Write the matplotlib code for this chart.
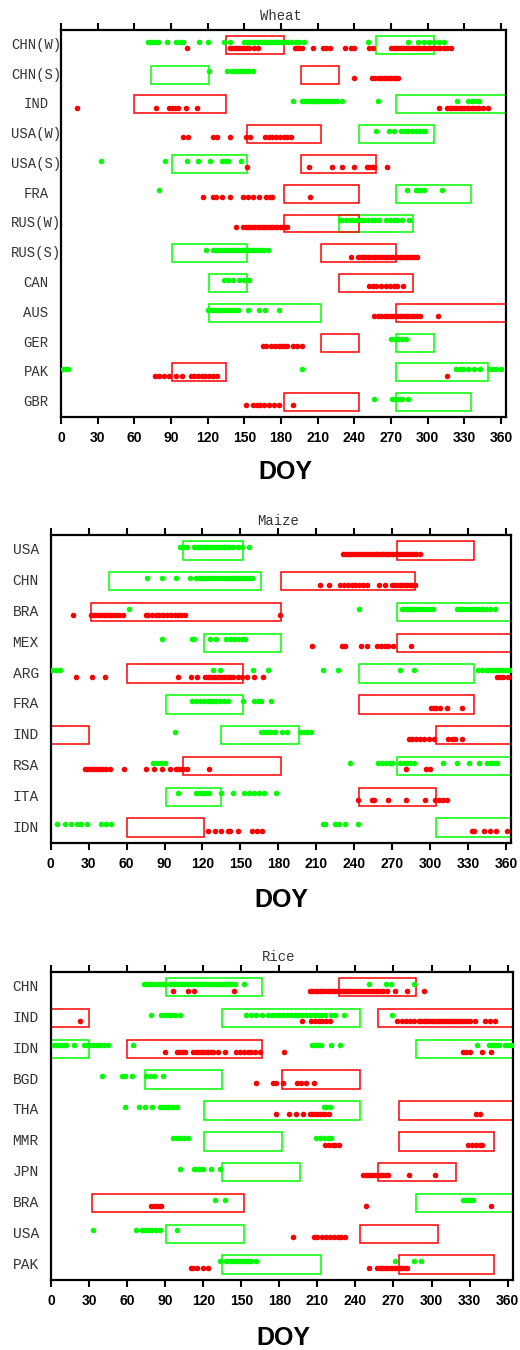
import matplotlib
matplotlib.use("Agg")
import matplotlib.pyplot as plt
from matplotlib.patches import Rectangle
import matplotlib.transforms as mtransforms

GREEN = "#00ff00"
RED = "#ff0000"

# ---- Wheat ----
wheat_rows = ['CHN(W)', 'CHN(S)', 'IND', 'USA(W)', 'USA(S)', 'FRA', 'RUS(W)',
              'RUS(S)', 'CAN', 'AUS', 'GER', 'PAK', 'GBR']
wheat_green_win = [[(258, 305)], [(74, 121)], [(274, 365)], [(244, 305)], [(91, 152)],
                   [(274, 335)], [(227, 288)], [(91, 152)], [(121, 152)], [(121, 213)],
                   [(274, 305)], [(274, 349)], [(274, 335)]]
wheat_red_win = [[(135, 182)], [(196, 227)], [(60, 135)], [(152, 213)], [(196, 258)],
                 [(182, 244)], [(182, 244)], [(213, 274)], [(227, 288)], [(274, 365)],
                 [(213, 244)], [(91, 135)], [(182, 244)]]
wheat_green_doy = [
    [71, 73, 75, 77, 79, 87, 94, 97, 100, 113, 120, 133, 138, 150, 152, 154, 156, 158, 160,
     162, 164, 166, 168, 170, 172, 174, 176, 178, 180, 183, 186, 189, 192, 195, 199, 251,
     284, 292, 297, 301, 305, 309, 313],
    [121, 136, 140, 142, 144, 146, 148, 150, 152, 154, 157],
    [190, 197, 199, 201, 203, 205, 207, 209, 211, 213, 215, 217, 219, 221, 223, 226, 230,
     259, 324, 333, 336, 339, 342],
    [258, 268, 272, 278, 281, 284, 287, 290, 293, 296, 298],
    [33, 85, 103, 112, 122, 132, 134, 137, 147],
    [80, 283, 290, 292, 294, 297, 312],
    [228, 230, 233, 236, 239, 242, 245, 248, 251, 254, 257, 260, 266, 269, 272, 275, 279, 285],
    [119, 124, 126, 128, 130, 132, 134, 136, 138, 140, 142, 144, 146, 148, 150, 152, 154,
     156, 158, 160, 162, 164, 166, 169],
    [133, 137, 141, 146, 150, 154],
    [120, 122, 124, 126, 128, 130, 132, 134, 136, 138, 140, 142, 145, 153, 162, 167, 178],
    [270, 273, 276, 279, 282],
    [2, 4, 6, 197, 323, 326, 329, 333, 338, 343, 350, 353, 356, 360],
    [256, 271, 273, 275, 277, 279, 284],
]
wheat_red_doy = [
    [103, 138, 140, 142, 144, 146, 148, 150, 152, 154, 158, 161, 191, 193, 195, 197, 206,
     214, 217, 220, 232, 237, 240, 252, 255, 270, 272, 274, 276, 278, 280, 282, 284, 286,
     288, 290, 292, 294, 296, 298, 300, 302, 304, 306, 308, 310, 313, 316, 319],
    [240, 254, 257, 260, 262, 264, 266, 268, 270, 272, 274, 276],
    [13, 78, 88, 91, 93, 96, 102, 111, 309, 316, 318, 320, 322, 324, 326, 328, 330, 332,
     334, 336, 338, 340, 342, 345, 349],
    [100, 104, 124, 128, 138, 151, 155, 167, 170, 173, 176, 179, 182, 185, 188],
    [152, 203, 222, 230, 240, 250, 252, 254, 256, 267],
    [116, 124, 127, 132, 138, 149, 153, 157, 162, 168, 171, 173, 204],
    [143, 149, 151, 153, 155, 157, 159, 161, 163, 165, 167, 169, 171, 173, 175, 177, 179,
     181, 183, 185],
    [237, 243, 245, 247, 249, 251, 253, 255, 257, 259, 261, 263, 265, 267, 269, 271, 273,
     275, 277, 279, 281, 283, 285, 287, 289, 291],
    [252, 255, 258, 262, 266, 269, 272, 275, 280],
    [256, 259, 262, 265, 267, 269, 271, 273, 275, 277, 279, 281, 283, 285, 287, 289, 291,
     294, 308],
    [165, 168, 172, 175, 178, 180, 182, 185, 190, 193, 197],
    [77, 80, 84, 88, 94, 99, 106, 109, 112, 115, 118, 121, 124, 128, 316],
    [151, 157, 160, 163, 166, 170, 174, 178, 190],
]

# ---- Maize ----
maize_rows = ['USA', 'CHN', 'BRA', 'MEX', 'ARG', 'FRA', 'IND', 'RSA', 'ITA', 'IDN']
maize_green_win = [[(105, 152)], [(46, 166)], [(274, 365)], [(121, 182)], [(244, 335)],
                   [(91, 152)], [(135, 196)], [(274, 365)], [(91, 135)], [(305, 365)]]
maize_red_win = [[(274, 335)], [(182, 288)], [(32, 182)], [(274, 365)], [(60, 152)],
                 [(244, 335)], [(0, 30), (305, 365)], [(105, 182)], [(244, 305)], [(60, 121)]]
maize_green_doy = [
    [102, 105, 108, 113, 115, 117, 119, 121, 123, 125, 127, 129, 131, 133, 135, 137, 139,
     141, 144, 148, 151, 157],
    [76, 88, 99, 110, 115, 117, 119, 121, 123, 125, 127, 129, 131, 133, 135, 137, 139, 141,
     143, 145, 147, 149, 151, 153, 155, 157, 159],
    [62, 244, 278, 280, 282, 284, 286, 288, 290, 292, 294, 296, 298, 300, 302, 321, 323,
     325, 327, 329, 331, 333, 335, 337, 339, 341, 344, 347, 351],
    [88, 112, 113, 126, 131, 139, 142, 145, 148, 151, 154],
    [1, 4, 7, 128, 134, 160, 172, 215, 227, 276, 287, 338, 341, 344, 346, 348, 350, 352,
     354, 356, 358, 360, 362, 364],
    [112, 115, 118, 121, 124, 126, 128, 131, 134, 137, 140, 152, 161, 164, 166, 174],
    [98, 166, 168, 170, 172, 174, 177, 183, 187, 197, 200, 203, 206],
    [81, 84, 87, 90, 237, 259, 262, 265, 268, 270, 276, 279, 282, 284, 287, 310, 321, 331,
     339, 345, 348, 350, 353],
    [101, 115, 117, 120, 122, 125, 135, 144, 153, 157, 161, 165, 169, 178],
    [5, 11, 16, 21, 24, 29, 40, 44, 48, 215, 217, 225, 228, 233, 243],
]
maize_red_doy = [
    [231, 233, 235, 237, 239, 241, 243, 245, 247, 249, 251, 253, 255, 257, 259, 261, 263,
     265, 267, 269, 271, 273, 275, 277, 279, 281, 283, 285, 287, 289, 292],
    [213, 220, 229, 232, 235, 238, 241, 244, 247, 250, 260, 264, 270, 272, 274, 276, 278,
     280, 282, 284, 286, 288],
    [18, 32, 34, 36, 38, 40, 42, 44, 46, 48, 50, 52, 54, 57, 75, 77, 80, 83, 86, 89, 92, 95,
     98, 101, 103, 106, 181],
    [207, 230, 233, 245, 250, 258, 261, 264, 267, 271, 285],
    [20, 33, 43, 101, 111, 116, 122, 124, 126, 128, 130, 132, 134, 136, 138, 140, 142, 144,
     148, 151, 155, 161, 168, 353, 355, 358, 362],
    [301, 303, 305, 308, 313, 325],
    [283, 286, 289, 292, 295, 299, 303, 314, 317, 320, 325],
    [27, 29, 31, 33, 35, 37, 39, 41, 44, 47, 58, 75, 82, 88, 94, 99, 101, 103, 105, 108,
     125, 281, 297, 300],
    [243, 254, 256, 267, 281, 296, 304, 307, 310, 313],
    [124, 130, 135, 140, 142, 148, 159, 163, 167, 333, 335, 343, 347, 352, 361],
]

# ---- Rice ----
rice_rows = ['CHN', 'IND', 'IDN', 'BGD', 'THA', 'MMR', 'JPN', 'BRA', 'USA', 'PAK']
rice_green_win = [[(91, 166)], [(135, 244)], [(0, 30), (288, 365)], [(74, 135)],
                  [(121, 244)], [(121, 182)], [(135, 196)], [(288, 365)], [(91, 152)],
                  [(135, 213)]]
rice_red_win = [[(227, 288)], [(0, 30), (258, 365)], [(60, 166)], [(182, 244)],
                [(274, 365)], [(274, 349)], [(258, 319)], [(32, 152)], [(244, 305)],
                [(274, 349)]]
rice_green_doy = [
    [73, 75, 77, 79, 81, 84, 86, 88, 90, 94, 96, 98, 100, 102, 104, 106, 108, 110, 112, 114,
     116, 118, 120, 122, 124, 126, 128, 130, 132, 134, 136, 138, 140, 142, 145, 152, 251,
     264, 268, 286],
    [79, 87, 90, 93, 95, 98, 102, 154, 158, 162, 166, 171, 174, 177, 180, 183, 186, 189, 192,
     195, 198, 201, 204, 207, 210, 213, 216, 221, 224, 231, 269],
    [2, 4, 6, 8, 10, 12, 18, 26, 28, 30, 33, 36, 39, 42, 45, 65, 206, 208, 210, 213, 221,
     228, 336, 345, 347, 349, 351, 353, 358, 360, 362, 364],
    [40, 56, 58, 64, 75, 78, 81, 88],
    [58, 69, 74, 80, 86, 88, 90, 92, 94, 96, 99, 215, 217, 220],
    [96, 99, 102, 105, 108, 209, 212, 215, 218, 221],
    [102, 113, 115, 117, 120, 126, 133],
    [129, 137, 325, 327, 329, 331, 333],
    [33, 67, 72, 74, 76, 78, 80, 83, 86, 99],
    [133, 138, 140, 142, 144, 146, 148, 150, 152, 154, 156, 158, 162, 271, 286, 292],
]
rice_red_doy = [
    [96, 108, 113, 144, 204, 206, 208, 210, 212, 214, 216, 218, 220, 222, 224, 226, 228,
     230, 232, 234, 236, 238, 240, 242, 244, 246, 248, 250, 252, 254, 256, 258, 260, 262,
     265, 271, 281, 294],
    [23, 198, 205, 208, 211, 214, 217, 220, 273, 277, 280, 283, 286, 290, 292, 294, 296,
     298, 300, 302, 304, 306, 308, 310, 312, 314, 316, 318, 320, 322, 324, 326, 328, 330,
     334, 342, 346, 350],
    [90, 99, 101, 103, 106, 112, 114, 116, 118, 120, 122, 124, 126, 128, 132, 137, 146, 149,
     152, 155, 158, 161, 165, 184, 325, 327, 330, 340, 347],
    [162, 175, 177, 183, 194, 197, 201, 207],
    [177, 188, 193, 199, 204, 206, 208, 210, 212, 214, 216, 219, 335, 338],
    [216, 219, 222, 224, 227, 329, 332, 335, 338, 340],
    [246, 248, 250, 252, 254, 256, 258, 260, 262, 264, 266, 282, 303],
    [79, 81, 83, 85, 87, 248, 347],
    [191, 207, 210, 214, 217, 220, 223, 226, 229, 232],
    [110, 112, 115, 120, 124, 251, 257, 259, 261, 263, 265, 267, 269, 271, 273, 275, 277,
     279, 281],
]

xtick_vals = list(range(0, 361, 30))

fig = plt.figure(figsize=(5.2, 13.5), dpi=100)


#----Draw one crop panel----
def draw_panel(rect, title, title_xy, doy_xy, label_x, rows, green_win, red_win,
               green_doy, red_doy, label_size):
    ax = fig.add_axes(rect)
    n = len(rows)
    for i in range(n):
        y = i + 1
        for s, e in green_win[i]:
            ax.add_patch(Rectangle((s, y - 0.3), e - s, 0.6, fill=False,
                                   edgecolor=GREEN, lw=1.1, zorder=2))
        for s, e in red_win[i]:
            ax.add_patch(Rectangle((s, y - 0.3), e - s, 0.6, fill=False,
                                   edgecolor=RED, lw=1.1, zorder=2))
        ax.plot(green_doy[i], [y - 0.11] * len(green_doy[i]), 'o', color=GREEN,
                ms=4, mew=0, zorder=3, clip_on=True)
        ax.plot(red_doy[i], [y + 0.11] * len(red_doy[i]), 'o', color=RED,
                ms=4, mew=0, zorder=3, clip_on=True)

    ax.set_xlim(0, 364)
    ax.set_ylim(n + 0.5, 0.5)
    ax.set_xticks(xtick_vals)
    ax.set_xticklabels([str(v) for v in xtick_vals], fontfamily='Liberation Sans',
                       fontweight='bold', fontsize=10)
    ax.tick_params(axis='x', top=True, bottom=True, labeltop=False, direction='out',
                   length=5, width=1.5, pad=5)
    ax.tick_params(axis='y', left=False, labelleft=False)
    for sp in ax.spines.values():
        sp.set_linewidth(1.6)

    trans = mtransforms.blended_transform_factory(fig.transFigure, ax.transData)
    for i, name in enumerate(rows):
        ax.text(label_x, i + 1, name, transform=trans, ha='center', va='center',
                fontfamily='Liberation Mono', fontsize=label_size, color='#333333')

    fig.text(title_xy[0], title_xy[1], title, ha='center', va='center',
             fontfamily='Liberation Mono', fontsize=10, color='#333333')
    fig.text(doy_xy[0], doy_xy[1], 'DOY', ha='center', va='center',
             fontfamily='Liberation Sans', fontweight='bold', fontsize=18)
    return ax


draw_panel([61 / 520, 1 - 417 / 1350, 445 / 520, 387 / 1350], 'Wheat',
           (0.5394, 1 - 15.7 / 1350), (0.548, 1 - 472 / 1350), 36 / 520,
           wheat_rows, wheat_green_win, wheat_red_win, wheat_green_doy, wheat_red_doy, 10)

draw_panel([50.7 / 520, 1 - 843 / 1350, 460.3 / 520, 308 / 1350], 'Maize',
           (0.5346, 1 - 520.7 / 1350), (281.7 / 520, 1 - 900 / 1350), 25.7 / 520,
           maize_rows, maize_green_win, maize_red_win, maize_green_doy, maize_red_doy, 10.5)

draw_panel([51 / 520, 1 - 1280 / 1350, 461.7 / 520, 308.3 / 1350], 'Rice',
           (0.5365, 1 - 956.7 / 1350), (283.3 / 520, 1 - 1338 / 1350), 25.7 / 520,
           rice_rows, rice_green_win, rice_red_win, rice_green_doy, rice_red_doy, 10.5)

fig.savefig('out.png', dpi=100)
